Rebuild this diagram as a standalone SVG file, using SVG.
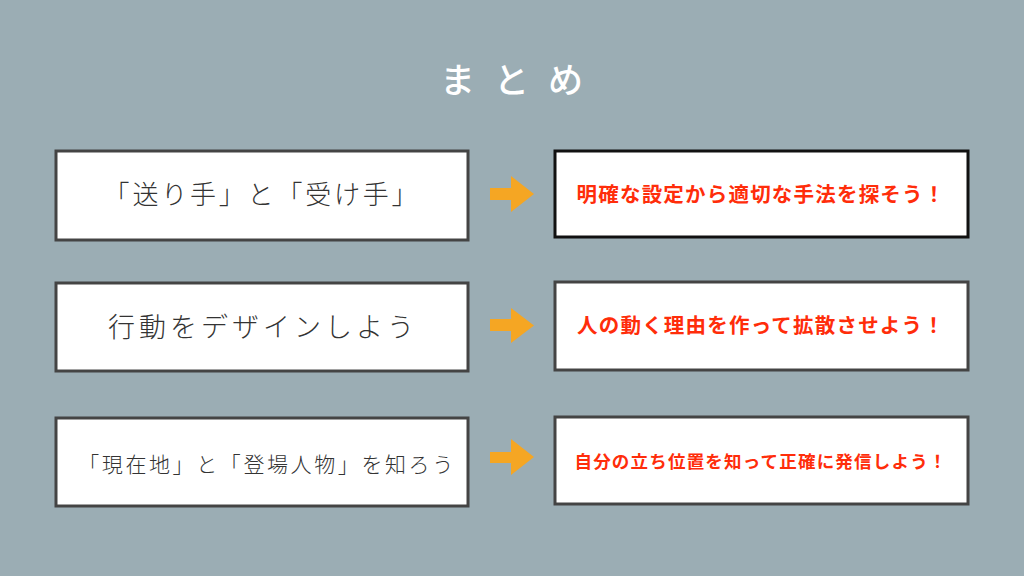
<svg xmlns="http://www.w3.org/2000/svg" width="1024" height="576" viewBox="0 0 1024 576">
<defs>
<style>
.bg{fill:#9badb4}
.lbox{fill:#fff;stroke:#444;stroke-width:3}
.rbox{fill:#fff;stroke:#444;stroke-width:3}
.lt{font-family:"Noto Sans CJK JP","Noto Sans",sans-serif;fill:#333;text-anchor:middle;font-weight:300}
.rt{font-family:"Noto Sans CJK JP","Noto Sans",sans-serif;fill:#ff2d0a;text-anchor:middle;font-weight:700}
.title{font-family:"Noto Sans CJK JP","Noto Sans",sans-serif;fill:#fff;text-anchor:middle;font-size:35px;letter-spacing:19px;font-weight:500}
.arrow{fill:#f5a623}
</style>
</defs>
<rect class="bg" x="0" y="0" width="1024" height="576"/>
<text class="title" x="521" y="93">まとめ</text>
<g id="node-l1"><rect class="lbox" x="56" y="151" width="412" height="89"/><text class="lt" x="262" y="204" font-size="26" letter-spacing="2.8">「送り手」と「受け手」</text></g>
<g id="node-r1"><rect class="rbox" x="555" y="151" width="413" height="86" style="stroke:#111"/><text class="rt" x="761" y="202" font-size="20.5" letter-spacing="1.2">明確な設定から適切な手法を探そう！</text></g>
<g id="node-l2"><rect class="lbox" x="56" y="283" width="412" height="88"/><text class="lt" x="263" y="337" font-size="27" letter-spacing="4">行動をデザインしよう</text></g>
<g id="node-r2"><rect class="rbox" x="555" y="282" width="413" height="88"/><text class="rt" x="761" y="333" font-size="20.5" letter-spacing="1.2">人の動く理由を作って拡散させよう！</text></g>
<g id="node-l3"><rect class="lbox" x="56" y="418" width="412" height="88"/><text class="lt" x="267" y="472" font-size="21" letter-spacing="2.6">「現在地」と「登場人物」を知ろう</text></g>
<g id="node-r3"><rect class="rbox" x="555" y="417" width="413" height="87"/><text class="rt" x="761" y="468" font-size="17.5" letter-spacing="1.2">自分の立ち位置を知って正確に発信しよう！</text></g>
<g id="connectors">
<polygon class="arrow" points="490,188 511,188 511,176 534,194 511,212 511,200 490,200"/>
<polygon class="arrow" points="490,319 511,319 511,308 534,325.5 511,343 511,331 490,331"/>
<polygon class="arrow" points="490,452 511,452 511,439 534,457 511,475 511,463 490,463"/>
</g>
</svg>
